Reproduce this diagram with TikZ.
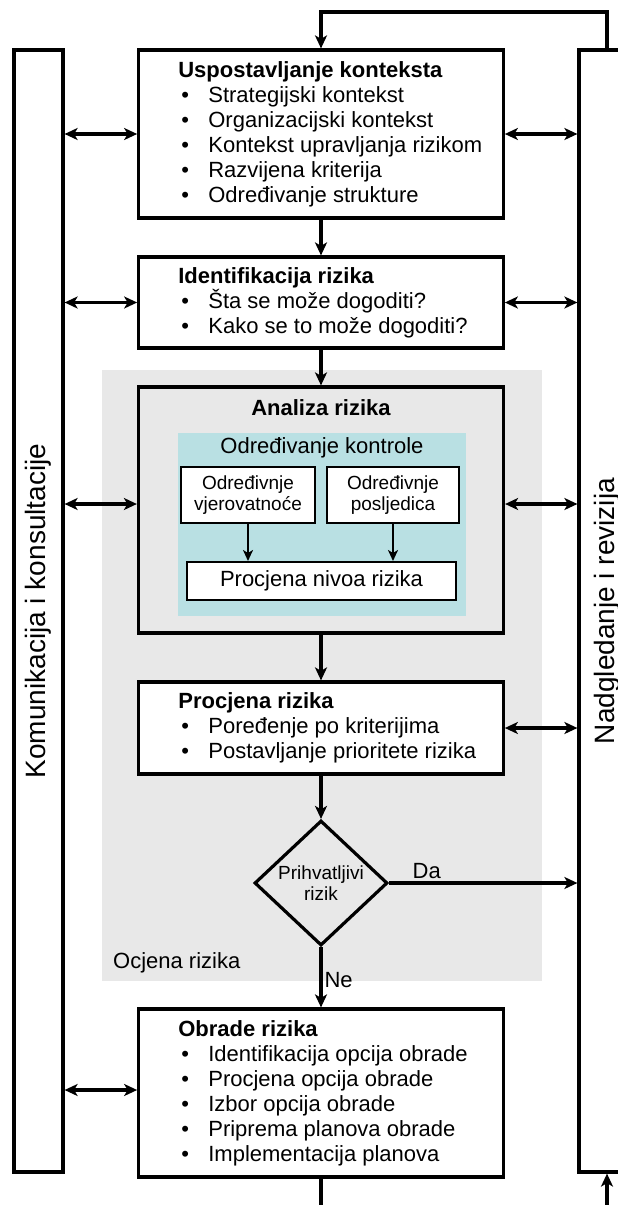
\documentclass[tikz,border=0pt]{standalone}
\usepackage{fontspec}
\setmainfont{Liberation Sans}
\usetikzlibrary{arrows.meta}
\usetikzlibrary{shapes.geometric}
\usetikzlibrary{positioning}

\definecolor{ocjenagray}{RGB}{232,232,232}
\definecolor{kontrolacyan}{RGB}{185,224,227}

\newcommand{\glavnifont}{\fontsize{22}{25}\selectfont}
\newcommand{\malifont}{\fontsize{19}{21.5}\selectfont}
\newcommand{\stavka}[1]{\makebox[30pt][l]{\hspace{3pt}\textbullet}#1}

\tikzset{
  box/.style={draw, line width=3.2pt, fill=white, minimum width=364.5pt, inner sep=0pt},
  boxtext/.style={anchor=west, inner sep=0pt, align=left, font=\glavnifont},
  smallbox/.style={draw, line width=2pt, fill=white, inner sep=0pt, align=center, font=\malifont},
  bar/.style={draw, line width=3.2pt, fill=white, minimum height=1122pt, inner sep=0pt, font=\fontsize{28}{30}\selectfont},
  flow/.style={line width=3.2pt, -{Stealth[length=13pt,width=12pt,inset=3.5pt]}},
  both/.style={line width=3.2pt, {Stealth[length=13pt,width=12pt,inset=3.5pt]}-{Stealth[length=13pt,width=12pt,inset=3.5pt]}},
  smallflow/.style={line width=2.2pt, -{Stealth[length=11pt,width=10pt,inset=3pt]}}
}

\begin{document}
\begin{tikzpicture}[x=1pt,y=-1pt]
  \useasboundingbox (0,0) rectangle (618,1205);
  \clip (0,0) rectangle (618,1205);

  % Ocjena rizika (background)
  \fill[ocjenagray] (102,370) rectangle (542,981);
  \node[anchor=west, inner sep=0pt, font=\glavnifont] (ocjena) at (113,963) {Ocjena rizika};

  % Side bars
  \node[bar, minimum width=49pt] (kom) at (38.5,611) {\rotatebox{90}{Komunikacija i konsultacije}};
  \node[bar, minimum width=56pt] (nad) at (607,611) {\rotatebox{90}{Nadgledanje i revizija}};

  % Uspostavljanje konteksta
  \node[box, minimum height=168pt] (ctx) at (321,134) {};
  \node[boxtext, right=41pt of ctx.west] (ctxtxt) {\textbf{Uspostavljanje konteksta}\\
    \stavka{Strategijski kontekst}\\
    \stavka{Organizacijski kontekst}\\
    \stavka{Kontekst upravljanja rizikom}\\
    \stavka{Razvijena kriterija}\\
    \stavka{Određivanje strukture}};

  % Identifikacija rizika
  \node[box, minimum height=91pt] (idf) at (321,302.5) {};
  \node[boxtext, right=41pt of idf.west] (idftxt) {\textbf{Identifikacija rizika}\\
    \stavka{Šta se može dogoditi?}\\
    \stavka{Kako se to može dogoditi?}};

  % Analiza rizika
  \node[box, fill=ocjenagray, minimum width=365pt, minimum height=246pt] (ana) at (321,510) {};
  \node[inner sep=0pt, font=\glavnifont\bfseries] (anatitle) at (321,408) {Analiza rizika};
  \node[fill=kontrolacyan, minimum width=288pt, minimum height=183pt, inner sep=0pt] (kontrola) at (322,524.5) {};
  \node[inner sep=0pt, font=\glavnifont] (kontrolatitle) at (322,448) {Određivanje kontrole};
  \node[smallbox, minimum width=134pt, minimum height=56pt] (vjer) at (248,495) {Određivnje\\vjerovatnoće};
  \node[smallbox, minimum width=132pt, minimum height=56pt] (posl) at (393,495) {Određivnje\\posljedica};
  \node[smallbox, font=\glavnifont, minimum width=269pt, minimum height=38pt] (pniv) at (321.5,581) {Procjena nivoa rizika};
  \draw[smallflow] (vjer.south) -- (vjer.south |- pniv.north);
  \draw[smallflow] (posl.south) -- (posl.south |- pniv.north);

  % Procjena rizika
  \node[box, minimum height=92pt] (proc) at (321,728) {};
  \node[boxtext, right=41pt of proc.west] (proctxt) {\textbf{Procjena rizika}\\
    \stavka{Poređenje po kriterijima}\\
    \stavka{Postavljanje prioritete rizika}};

  % Odluka
  \node[diamond, draw, line width=3.2pt, minimum width=133pt, minimum height=125pt, inner sep=0pt, align=center, font=\malifont] (prih) at (321,883) {Prihvatljivi\\rizik};

  % Obrade rizika
  \node[box, minimum height=168pt] (obr) at (321,1093) {};
  \node[boxtext, right=41pt of obr.west] (obrtxt) {\textbf{Obrade rizika}\\
    \stavka{Identifikacija opcija obrade}\\
    \stavka{Procjena opcija obrade}\\
    \stavka{Izbor opcija obrade}\\
    \stavka{Priprema planova obrade}\\
    \stavka{Implementacija planova}};

  % Main flow
  \draw[flow] (ctx.south) -- (idf.north);
  \draw[flow] (idf.south) -- (ana.north);
  \draw[flow] (ana.south) -- (proc.north);
  \draw[flow] (proc.south) -- (prih.north);
  \draw[flow] (prih.south) -- (obr.north) node[pos=0.55, right=2pt, inner sep=0pt, font=\glavnifont] (ne) {Ne};
  \draw[flow] (prih.east) -- (prih.east -| nad.west) node[pos=0.2, above=3pt, inner sep=0pt, font=\glavnifont] (da) {Da};

  % Feedback loop
  \coordinate (fbR) at (607,12);
  \coordinate (fbL) at (321,12);
  \draw[flow] (nad.north) -- (fbR) -- (fbL) -- (ctx.north);
  \coordinate (botL) at (321,1215);
  \coordinate (botR) at (607,1215);
  \draw[line width=3.2pt] (obr.south) -- (botL);
  \draw[flow] (botR) -- (nad.south);

  % Links to the side bars
  \draw[both] (ctx.west) -- (ctx.west -| kom.east);
  \draw[both] (ctx.east) -- (ctx.east -| nad.west);
  \draw[both] (idf.west) -- (idf.west -| kom.east);
  \draw[both] (idf.east) -- (idf.east -| nad.west);
  \draw[both] ([yshift=6pt]ana.west) -- ([yshift=6pt]ana.west -| kom.east);
  \draw[both] ([yshift=6pt]ana.east) -- ([yshift=6pt]ana.east -| nad.west);
  \draw[both] (proc.east) -- (proc.east -| nad.west);
  \draw[both] ([yshift=3pt]obr.west) -- ([yshift=3pt]obr.west -| kom.east);
\end{tikzpicture}
\end{document}
